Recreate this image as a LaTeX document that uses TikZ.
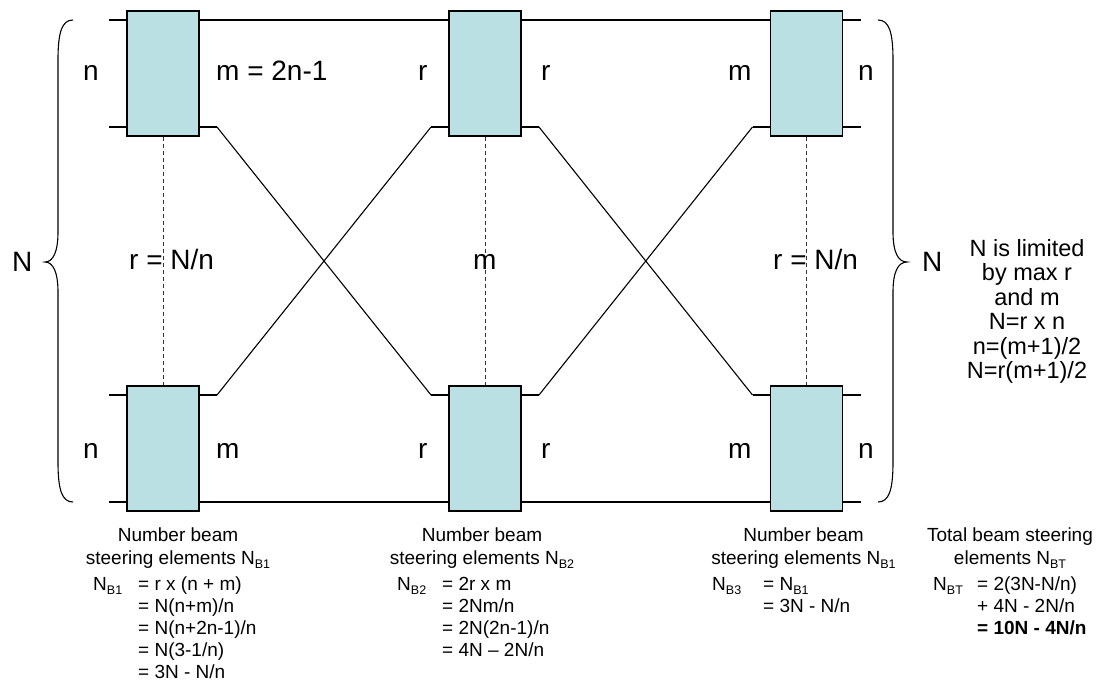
\documentclass[tikz,border=0pt]{standalone}
\usepackage{fontspec}
\setmainfont{Liberation Sans}
\newcommand\sbs[1]{\raisebox{-0.22em}{\fontsize{12.5}{12.5}\selectfont #1}}
\definecolor{boxfill}{HTML}{BBE0E3}
\begin{document}
\begin{tikzpicture}[x=1pt,y=-1pt,
  blk/.style={draw=black,line width=1.2pt,fill=boxfill,minimum width=72pt,minimum height=125pt,inner sep=0pt},
  wire/.style={draw=black,line width=1.1pt},
  dashln/.style={draw=black!80,line width=0.9pt,dash pattern=on 4pt off 3pt},
  brc/.style={draw=black,line width=1.1pt},
  lbl/.style={font=\fontsize{28}{28}\selectfont,inner sep=0pt,anchor=base west},
  sidetxt/.style={font=\fontsize{23.5}{23.5}\selectfont,inner sep=0pt,anchor=base},
  captxt/.style={font=\fontsize{19}{19}\selectfont,inner sep=0pt,anchor=base},
  eqtxt/.style={font=\fontsize{19}{19}\selectfont,inner sep=0pt,anchor=base west}]
\useasboundingbox (0,0) rectangle (1098,681);
% boxes and stub coordinates
\foreach \i/\x in {1/163,2/485,3/806.5}{
  \foreach \r/\y in {t/73.5,b/448.5}{
    \node[blk] (b\i\r) at (\x,\y) {};
    \coordinate (b\i\r-L1) at (\x-54,\y-53.5);
    \coordinate (b\i\r-L2) at (\x-54,\y+53.5);
    \coordinate (b\i\r-R1) at (\x+54,\y-53.5);
    \coordinate (b\i\r-R2) at (\x+54,\y+53.5);
    \draw[wire] (b\i\r-L1) -- (b\i\r-L1 -| b\i\r.west);
    \draw[wire] (b\i\r-L2) -- (b\i\r-L2 -| b\i\r.west);
    \draw[wire] (b\i\r-R1) -- (b\i\r-R1 -| b\i\r.east);
    \draw[wire] (b\i\r-R2) -- (b\i\r-R2 -| b\i\r.east);
  }
  \draw[dashln] (b\i t.south) -- (b\i b.north);
}
% straight connections
\draw[wire] (b1t-R1) -- (b2t-L1);
\draw[wire] (b2t-R1) -- (b3t-L1);
\draw[wire] (b1b-R2) -- (b2b-L2);
\draw[wire] (b2b-R2) -- (b3b-L2);
% crossing connections
\draw[wire] (b1t-R2) -- (b2b-L1);
\draw[wire] (b2t-L2) -- (b1b-R1);
\draw[wire] (b2t-R2) -- (b3b-L1);
\draw[wire] (b3t-L2) -- (b2b-R1);
% braces
\draw[brc] (73,20) .. controls (62,20) and (58,32) .. (58,60) -- (58,232)
  .. controls (58,252) and (53,262) .. (45,262)
  .. controls (53,262) and (58,272) .. (58,292) -- (58,462)
  .. controls (58,490) and (62,502) .. (73,502);
\draw[brc] (878,20) .. controls (889,20) and (893,32) .. (893,60) -- (893,232)
  .. controls (893,252) and (898,262) .. (907,262)
  .. controls (898,262) and (893,272) .. (893,292) -- (893,462)
  .. controls (893,490) and (889,502) .. (878,502);
% box labels
\node[lbl] (l1) at (83,80) {n};
\node[lbl] (l2) at (216,80) {m = 2n-1};
\node[lbl] (l3) at (418,80) {r};
\node[lbl] (l4) at (541,80) {r};
\node[lbl] (l5) at (728,80) {m};
\node[lbl] (l6) at (858,80) {n};
\node[lbl] (l7) at (83,458) {n};
\node[lbl] (l8) at (216,458) {m};
\node[lbl] (l9) at (418,458) {r};
\node[lbl] (l10) at (541,458) {r};
\node[lbl] (l11) at (728,458) {m};
\node[lbl] (l12) at (858,458) {n};
\node[lbl] (l13) at (129,269) {r = N/n};
\node[lbl] (l14) at (473,269) {m};
\node[lbl] (l15) at (773,269) {r = N/n};
\node[lbl] (bigN1) at (12,271) {N};
\node[lbl] (bigN2) at (922,271) {N};
% side note
\node[sidetxt] (s1) at (1027,256) {N is limited};
\node[sidetxt] (s2) at (1027,280.5) {by max r};
\node[sidetxt] (s3) at (1027,305) {and m};
\node[sidetxt] (s4) at (1027,329.5) {N=r x n};
\node[sidetxt] (s5) at (1027,354) {n=(m+1)/2};
\node[sidetxt] (s6) at (1027,378.5) {N=r(m+1)/2};
% captions
\node[captxt] (c1a) at (178,541) {Number beam};
\node[captxt] (c1b) at (178,564) {steering elements N\sbs{B1}};
\node[eqtxt] (e1n) at (93,590) {N\sbs{B1}};
\node[eqtxt] (e1a) at (138,590) {= r x (n + m)};
\node[eqtxt] (e1b) at (138,612) {= N(n+m)/n};
\node[eqtxt] (e1c) at (138,634) {= N(n+2n-1)/n};
\node[eqtxt] (e1d) at (138,656) {= N(3-1/n)};
\node[eqtxt] (e1e) at (138,678) {= 3N - N/n};
\node[captxt] (c2a) at (482,541) {Number beam};
\node[captxt] (c2b) at (482,564) {steering elements N\sbs{B2}};
\node[eqtxt] (e2n) at (397,590) {N\sbs{B2}};
\node[eqtxt] (e2a) at (442,590) {= 2r x m};
\node[eqtxt] (e2b) at (442,612) {= 2Nm/n};
\node[eqtxt] (e2c) at (442,634) {= 2N(2n-1)/n};
\node[eqtxt] (e2d) at (442,656) {= 4N – 2N/n};
\node[captxt] (c3a) at (803.5,541) {Number beam};
\node[captxt] (c3b) at (803.5,564) {steering elements N\sbs{B1}};
\node[eqtxt] (e3n) at (712,590) {N\sbs{B3}};
\node[eqtxt] (e3a) at (763,590) {= N\sbs{B1}};
\node[eqtxt] (e3b) at (763,612) {= 3N - N/n};
\node[captxt] (c4a) at (1010,541) {Total beam steering};
\node[captxt] (c4b) at (1010,564) {elements N\sbs{BT}};
\node[eqtxt] (e4n) at (933,590) {N\sbs{BT}};
\node[eqtxt] (e4a) at (977,590) {= 2(3N-N/n)};
\node[eqtxt] (e4b) at (977,612) {+ 4N - 2N/n};
\node[eqtxt] (e4c) at (977,634) {\bfseries = 10N - 4N/n};
\end{tikzpicture}
\end{document}
